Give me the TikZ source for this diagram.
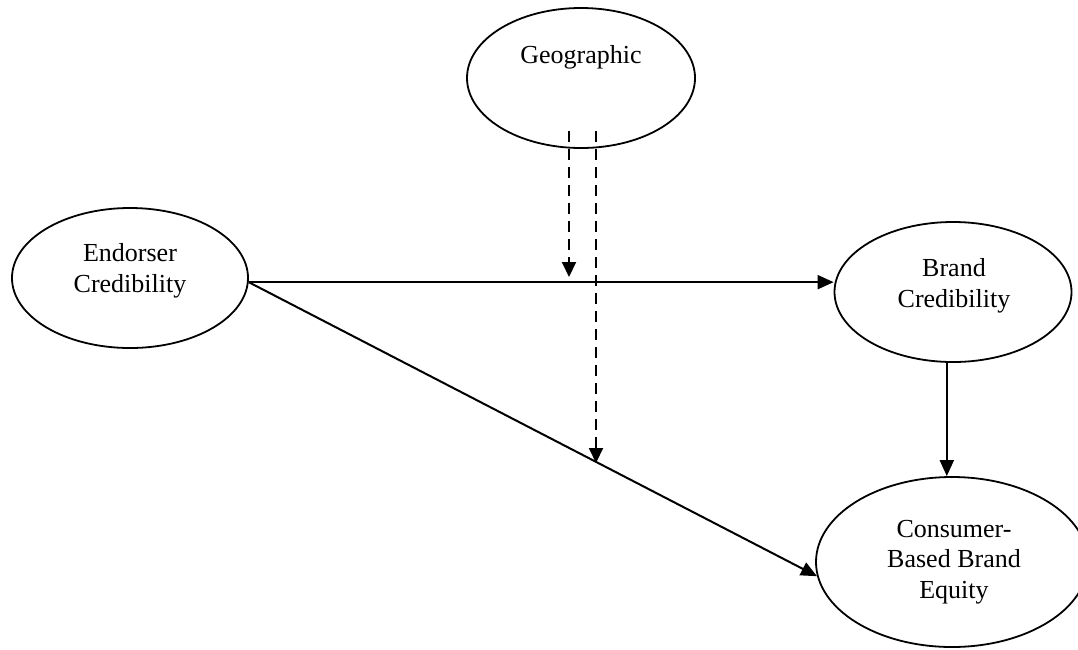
\documentclass[tikz,border=0pt]{standalone}
\usepackage{fontspec}
\setmainfont{Liberation Serif}
\usetikzlibrary{arrows.meta,shapes.geometric}
\tikzset{
  oval/.style={draw, line width=1.8pt, ellipse, inner sep=0pt},
  lbl/.style={align=center, anchor=base, font=\fontsize{26}{30.5}\selectfont},
  conn/.style={line width=2pt, -{Triangle[length=16pt,width=14pt]}},
  dconn/.style={line width=2pt, dash pattern=on 11pt off 7pt, -{Triangle[length=15pt,width=14pt]}}
}
\begin{document}
\begin{tikzpicture}[x=1pt,y=-1pt]
\useasboundingbox (0,0) rectangle (1078,649);
\node[oval, minimum width=228pt, minimum height=140pt] (geo) at (581,78) {};
\node[oval, minimum width=236pt, minimum height=140pt] (endo) at (130,278) {};
\node[oval, minimum width=237pt, minimum height=140pt] (brand) at (953,292) {};
\node[oval, minimum width=272pt, minimum height=170pt] (cons) at (952,562) {};
\node[lbl] (geot) at (581,63) {Geographic};
\node[lbl] (endot) at (130,292) {Endorser\\Credibility};
\node[lbl] (brandt) at (954,307) {Brand\\Credibility};
\node[lbl] (const) at (954,598) {Consumer-\\Based Brand\\Equity};
\coordinate (d1s) at (569,131);
\coordinate (d1e) at (569,277);
\coordinate (d2s) at (596,131);
\coordinate (d2e) at (596,463);
\draw[conn] (endo.-2.4) -- (endo.-2.4 -| brand.west);
\draw[conn] (endo.-2.4) -- (cons.186.9);
\draw[conn] (brand.-95.7) -- (brand.-95.7 |- cons.north);
\draw[dconn] (d1s) -- (d1e);
\draw[dconn] (d2s) -- (d2e);
\end{tikzpicture}
\end{document}
